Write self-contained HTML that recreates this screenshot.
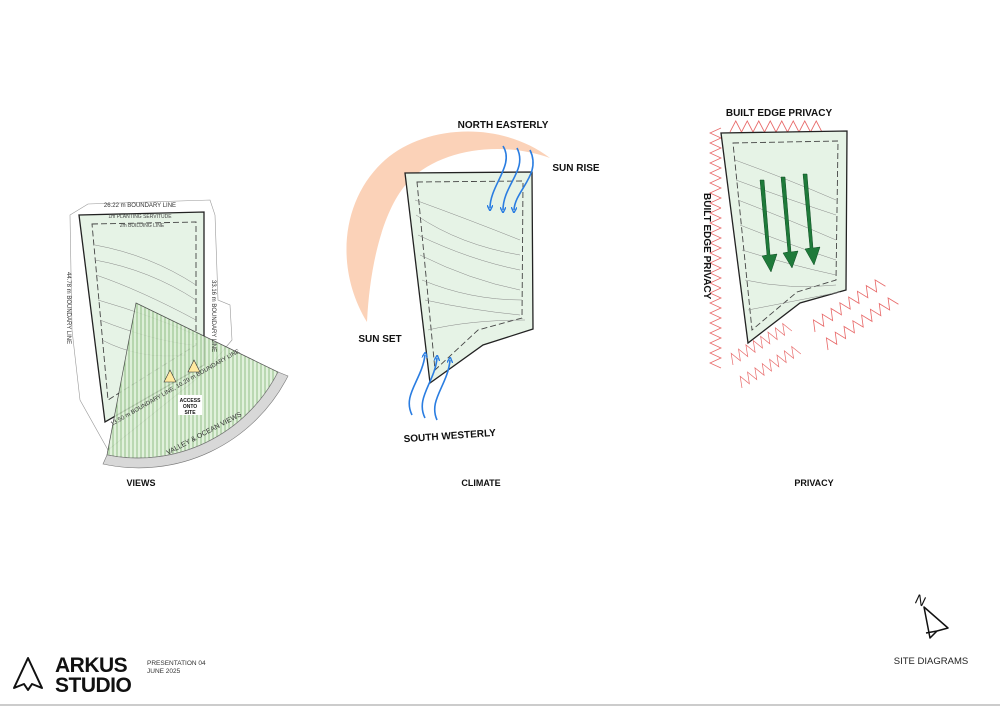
<!DOCTYPE html>
<html><head><meta charset="utf-8"><style>
body{margin:0;background:#fff;}
svg{display:block;font-family:"Liberation Sans",sans-serif;}
.b{font-weight:bold;fill:#111}
.s{font-size:5px;fill:#444}
</style></head><body>
<svg width="1000" height="707" viewBox="0 0 1000 707" xmlns="http://www.w3.org/2000/svg">
<defs>
<pattern id="hatch" width="4" height="4" patternUnits="userSpaceOnUse"><rect width="4" height="4" fill="#dcefd6"/><line x1="1" y1="0" x2="1" y2="4" stroke="#5a9a4a" stroke-width="0.7"/></pattern>
<marker id="ba" markerWidth="6" markerHeight="6" refX="3" refY="3" orient="auto" markerUnits="userSpaceOnUse"><path d="M0,0 L6,3 L0,6" fill="none" stroke="#2a7de1" stroke-width="1.4"/></marker>
<path id="zz" d="M0,0 l5,-11 l5,11 l5,-11 l5,11 l5,-11 l5,11 l5,-11 l5,11 l5,-11 l5,11 l5,-11 l5,11 l5,-11 l5,11 l5,-11 l5,11"/>
</defs>
<rect width="1000" height="707" fill="#fff"/>
<line x1="0" y1="705" x2="1000" y2="705" stroke="#ccc" stroke-width="2"/>

<!-- VIEWS -->
<path d="M70,215 L88,204 L210,200 L215,215 L218,300 L230,305 L232,340 L205,372 L108,450 L80,400 L72,330 Z" fill="none" stroke="#999" stroke-width="0.6"/>
<path d="M79,215 L204,212 L204,365 L105,422 Z" fill="#e6f3e6" stroke="#222" stroke-width="1.3"/>
<path d="M92,224 L196,222 L196,345 L108,400 Z" fill="none" stroke="#444" stroke-width="0.9" stroke-dasharray="6,3"/>
<g fill="none" stroke="#888" stroke-width="0.5">
<path d="M95,245 Q150,255 196,285"/><path d="M95,260 Q150,270 196,300"/><path d="M96,275 Q140,290 196,320"/><path d="M98,300 Q150,315 196,335"/><path d="M100,320 Q150,340 192,345"/><path d="M102,340 Q140,360 185,355"/>
</g>
<path d="M136,303 L278,372 A157,157 0 0 1 107,455 Z" fill="url(#hatch)" stroke="#333" stroke-width="0.7" opacity="0.85"/>
<path d="M278,372 A157,157 0 0 1 107,455 L103,464 A167,167 0 0 0 288,376 Z" fill="#d8d8d8" stroke="#777" stroke-width="0.6"/>
<path d="M170,370 L176,382 L164,382 Z" fill="#ffe9a0" stroke="#333" stroke-width="0.6"/>
<path d="M194,360 L200,372 L188,372 Z" fill="#ffe9a0" stroke="#333" stroke-width="0.6"/>
<rect x="178" y="395" width="24" height="20" fill="#fff"/>
<text x="190" y="402" font-size="5" text-anchor="middle" class="b">ACCESS</text>
<text x="190" y="408" font-size="5" text-anchor="middle" class="b">ONTO</text>
<text x="190" y="414" font-size="5" text-anchor="middle" class="b">SITE</text>
<text x="140" y="207" font-size="6" fill="#333" text-anchor="middle">26.22 m BOUNDARY LINE</text>
<text x="140" y="218" class="s" text-anchor="middle">1m PLANTING SERVITUDE</text>
<text x="142" y="227" class="s" text-anchor="middle">2m BUILDING LINE</text>
<text font-size="6" fill="#333" transform="translate(67,272) rotate(90)">44.78 m BOUNDARY LINE</text>
<text font-size="6" fill="#333" transform="translate(212,280) rotate(90)">33.16 m BOUNDARY LINE</text>
<text font-size="6" fill="#333" transform="translate(112,426) rotate(-30)">13.50 m BOUNDARY LINE, 10.29 m BOUNDARY LINE</text>
<text font-size="7" fill="#333" transform="translate(168,455) rotate(-28)">VALLEY &amp; OCEAN VIEWS</text>
<text x="141" y="486" font-size="9" class="b" text-anchor="middle">VIEWS</text>

<!-- CLIMATE -->
<path d="M367,322 C335,270 340,200 385,160 C425,125 500,120 550,158 C500,140 440,150 410,180 C385,205 370,260 367,322 Z" fill="#fbd2b8"/>
<path d="M405,173 L532,172 L533,329 L483,345 L430,383 Z" fill="#e6f3e6" stroke="#222" stroke-width="1.3"/>
<path d="M417,182 L523,181 L522,318 L478,330 L435,370 Z" fill="none" stroke="#444" stroke-width="0.9" stroke-dasharray="6,3"/>
<g fill="none" stroke="#888" stroke-width="0.5">
<path d="M415,200 Q470,220 520,240"/><path d="M416,215 Q460,245 520,255"/><path d="M418,235 Q470,260 520,270"/><path d="M420,255 Q470,280 520,290"/><path d="M422,280 Q470,300 522,300"/><path d="M425,300 Q470,310 520,315"/><path d="M428,330 Q470,320 525,320"/>
</g>
<g fill="none" stroke="#2a7de1" stroke-width="1.6" marker-end="url(#ba)">
<path d="M503,146 C515,165 490,185 490,208"/><path d="M517,148 C528,170 503,185 503,210"/><path d="M530,150 C542,175 515,190 514,210"/>
<path d="M412,415 C402,395 422,380 425,355"/><path d="M425,418 C415,398 435,382 437,358"/><path d="M437,420 C428,400 448,385 450,360"/>
</g>
<text x="503" y="128" font-size="10" class="b" text-anchor="middle">NORTH EASTERLY</text>
<text x="576" y="171" font-size="10" class="b" text-anchor="middle">SUN RISE</text>
<text x="380" y="342" font-size="10" class="b" text-anchor="middle">SUN SET</text>
<text x="450" y="439" font-size="10" class="b" text-anchor="middle" transform="rotate(-4 450 439)">SOUTH WESTERLY</text>
<text x="481" y="486" font-size="9" class="b" text-anchor="middle">CLIMATE</text>

<!-- PRIVACY -->
<g fill="none" stroke="#e86a6a" stroke-width="0.8">
<use href="#zz" transform="translate(730,132) scale(1.15,1)"/>
<use href="#zz" transform="translate(721,128) rotate(90) scale(1,-1)"/>
<use href="#zz" transform="translate(721,208) rotate(90) scale(1,-1)"/>
<use href="#zz" transform="translate(721,288) rotate(90) scale(1,-1)"/>
<use href="#zz" transform="translate(733,365) rotate(-30) scale(0.85,1)"/>
<use href="#zz" transform="translate(742,388) rotate(-30) scale(0.85,1)"/>
<use href="#zz" transform="translate(815,332) rotate(-33) scale(1.05,1)"/>
<use href="#zz" transform="translate(828,350) rotate(-33) scale(1.05,1)"/>
</g>
<path d="M721,133 L847,131 L846,290 L800,303 L748,343 Z" fill="#e6f3e6" stroke="#222" stroke-width="1.3"/>
<path d="M733,143 L838,141 L836,280 L797,292 L752,330 Z" fill="none" stroke="#444" stroke-width="0.9" stroke-dasharray="6,3"/>
<g fill="none" stroke="#888" stroke-width="0.5">
<path d="M735,160 Q790,180 836,200"/><path d="M736,180 Q790,200 836,215"/><path d="M738,200 Q790,220 836,240"/><path d="M740,225 Q790,245 836,260"/><path d="M742,250 Q790,265 836,275"/><path d="M745,280 Q790,290 836,285"/><path d="M748,310 Q800,300 840,292"/>
</g>
<g fill="#1f7a3a" stroke="#0d4d22" stroke-width="0.5">
<path d="M760,180 L764,180 L770,255 L777,254 L771,272 L762,256 L767,255 Z"/>
<path d="M781,177 L785,177 L791,252 L798,251 L792,268 L783,253 L788,252 Z"/>
<path d="M803,174 L807,174 L813,248 L820,247 L814,265 L805,249 L810,248 Z"/>
</g>
<text x="779" y="116" font-size="10" class="b" text-anchor="middle">BUILT EDGE PRIVACY</text>
<text font-size="10" class="b" transform="translate(704,193) rotate(90)">BUILT EDGE PRIVACY</text>
<text x="814" y="486" font-size="9" class="b" text-anchor="middle">PRIVACY</text>

<!-- footer -->
<g fill="none" stroke="#111" stroke-width="2" stroke-linejoin="round">
<path d="M28,658 L14,688 L24,684 L28,690 L32,684 L42,688 Z"/>
</g>
<text x="55" y="672" font-size="21" class="b" style="letter-spacing:-0.5px">ARKUS</text>
<text x="55" y="692" font-size="21" class="b" style="letter-spacing:-0.5px">STUDIO</text>
<text x="147" y="665" font-size="6.5" fill="#333">PRESENTATION 04</text>
<text x="147" y="673" font-size="6.5" fill="#333">JUNE 2025</text>
<text x="916" y="603" font-size="14" fill="#111" transform="rotate(25 916 598)">N</text>
<path d="M924,607 L948,628 L937,631 L930,638 Z M937,631 L926,633" fill="none" stroke="#111" stroke-width="1.5" stroke-linejoin="round"/>
<text x="931" y="664" font-size="9.5" fill="#222" text-anchor="middle">SITE DIAGRAMS</text>
</svg>
</body></html>
